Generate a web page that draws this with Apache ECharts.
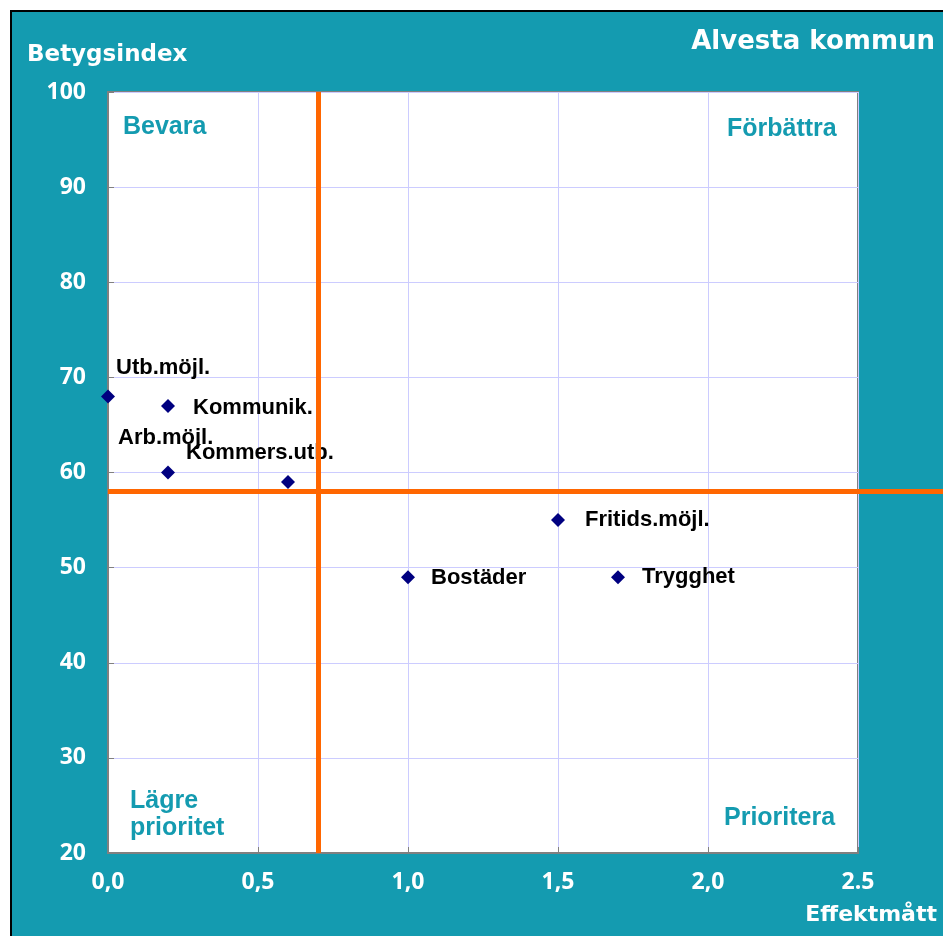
<!DOCTYPE html>
<html>
<head>
<meta charset="utf-8">
<script src="https://cdn.jsdelivr.net/npm/echarts@6/dist/echarts.min.js"></script>
<style>
  html, body { margin: 0; padding: 0; background: #fff; }
  #frame {
    position: absolute; left: 10px; top: 10px; width: 933px; height: 926px;
    background: #149bb0; border-left: 2px solid #000; border-top: 2px solid #000;
    box-sizing: border-box;
  }
  #chart { position: absolute; left: 0; top: 0; width: 943px; height: 936px; }
</style>
</head>
<body>
<div id="frame"></div>
<div id="chart"></div>
<script>
// data
const names = ['Utb.möjl.', 'Kommunik.', 'Arb.möjl.', 'Kommers.utb.', 'Fritids.möjl.', 'Bostäder', 'Trygghet']
const effekt = [0, 0.2, 0.2, 0.6, 1.5, 1.0, 1.7]
const betyg = [68, 67, 60, 59, 55, 49, 49]
const xTickLabels = ['0,0', '0,5', '1,0', '1,5', '2,0', '2.5']
const thresholdX = 0.7
const thresholdY = 58

// label nudges so the names sit like in the original
const labelOffsets = {
  'Utb.möjl.': [-17, -28],
  'Kommunik.': [0, 2],
  'Arb.möjl.': [-75, -35],
  'Kommers.utb.': [-127, -29],
  'Fritids.möjl.': [2, 0],
  'Bostäder': [-2, 1],
  'Trygghet': [-1, 0]
}

const teal = '#149bb0'
const orange = '#ff6600'
const tickFont = { color: '#fff', fontFamily: 'Open Sans', fontWeight: 'bold', fontSize: 23 }
const headFont = { color: '#fff', fontFamily: 'DejaVu Sans', fontWeight: 'bold' }
const quadFont = { color: teal, fontFamily: 'Liberation Sans', fontWeight: 'bold', fontSize: 25, lineHeight: 27 }

const chart = echarts.init(document.getElementById('chart'), null, { renderer: 'canvas' })

chart.setOption({
  animation: false,
  title: [
    { text: 'Alvesta kommun', right: 8, top: 26, padding: 0, textStyle: { ...headFont, fontSize: 26, lineHeight: 32 } },
    { text: 'Betygsindex', left: 27, top: 40, padding: 0, textStyle: { ...headFont, fontSize: 23, lineHeight: 30 } },
    { text: 'Effektmått', right: 6, top: 900, padding: 0, textStyle: { ...headFont, fontSize: 22, lineHeight: 30 } },
    { text: 'Bevara', left: 123, top: 114, padding: 0, textStyle: quadFont },
    { text: 'Förbättra', left: 727, top: 116, padding: 0, textStyle: quadFont },
    { text: 'Lägre\nprioritet', left: 130, top: 788, padding: 0, textStyle: quadFont },
    { text: 'Prioritera', left: 724, top: 805, padding: 0, textStyle: quadFont }
  ],
  grid: [
    {
      left: 108, right: 85, top: 92, bottom: 83,
      show: true, backgroundColor: '#fff', borderColor: '#808080', borderWidth: 2
    },
    { left: 108, right: 0, top: 92, bottom: 83 }
  ],
  xAxis: [
    {
      gridIndex: 0, type: 'value', min: 0, max: 2.5, interval: 0.5,
      axisLine: { lineStyle: { color: '#808080', width: 2 } },
      axisTick: { inside: true, length: 6, lineStyle: { color: '#808080' } },
      splitLine: { lineStyle: { color: '#ccccff', width: 1 } },
      axisLabel: {
        ...tickFont, margin: 18,
        formatter: (v) => xTickLabels[Math.round(v / 0.5)]
      }
    },
    { gridIndex: 1, type: 'value', min: 0, max: 1, show: false }
  ],
  yAxis: [
    {
      gridIndex: 0, type: 'value', min: 20, max: 100, interval: 10,
      axisLine: { lineStyle: { color: '#808080', width: 2 } },
      axisTick: { inside: true, length: 6, lineStyle: { color: '#808080' } },
      splitLine: { lineStyle: { color: '#ccccff', width: 1 } },
      axisLabel: { ...tickFont, margin: 22 }
    },
    { gridIndex: 1, type: 'value', min: 20, max: 100, show: false }
  ],
  series: [
    {
      type: 'scatter',
      xAxisIndex: 0, yAxisIndex: 0,
      symbol: 'diamond',
      symbolSize: 14,
      itemStyle: { color: '#000080', opacity: 1 },
      data: names.map((n, i) => ({
        name: n,
        value: [effekt[i], betyg[i]],
        label: { offset: labelOffsets[n] }
      })),
      label: {
        show: true,
        position: 'right',
        distance: 18,
        formatter: '{b}',
        color: '#000',
        fontFamily: 'Liberation Sans',
        fontWeight: 'bold',
        fontSize: 22
      },
      markLine: {
        silent: true,
        symbol: 'none',
        label: { show: false },
        lineStyle: { color: orange, width: 5, type: 'solid', opacity: 1 },
        data: [{ xAxis: thresholdX }]
      },
      z: 3
    },
    {
      type: 'scatter',
      xAxisIndex: 1, yAxisIndex: 1,
      data: [],
      markLine: {
        silent: true,
        symbol: 'none',
        label: { show: false },
        lineStyle: { color: orange, width: 5, type: 'solid', opacity: 1 },
        data: [{ yAxis: thresholdY }]
      }
    }
  ]
})
</script>
</body>
</html>
